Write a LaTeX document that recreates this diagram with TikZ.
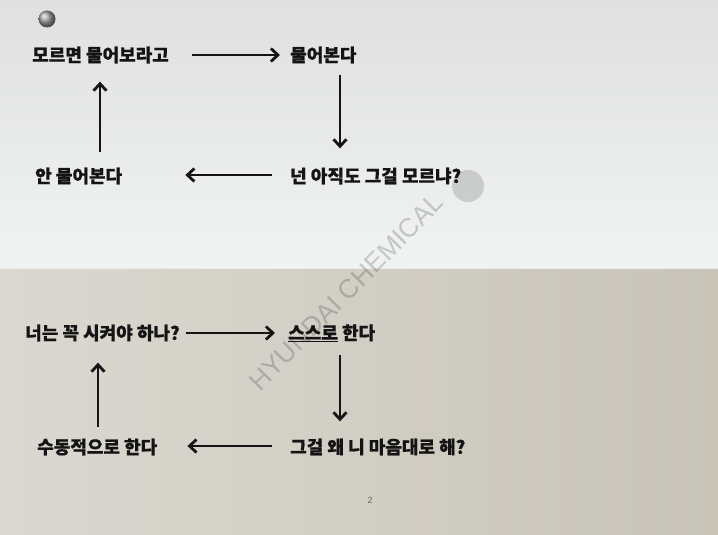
\documentclass[tikz,border=0pt]{standalone}
\usepackage{fontspec}
\newfontfamily\kr{Noto Sans CJK KR}[BoldFeatures={FakeBold=0.7}]
\newfontfamily\wm{Liberation Sans}
\usetikzlibrary{arrows.meta}
\definecolor{papertopT}{HTML}{DFE0DF}
\definecolor{papertopB}{HTML}{F1F3F3}
\definecolor{paperbotL}{HTML}{DBD8D1}
\definecolor{paperbotR}{HTML}{C8C4B8}
\definecolor{ink}{HTML}{141414}
\begin{document}
\begin{tikzpicture}[x=1pt,y=-1pt,
  lbl/.style={font=\kr\bfseries\fontsize{18}{21}\selectfont, inner sep=0pt, text=ink, anchor=west},
  arr/.style={draw=ink, line width=2.8pt, -{Straight Barb[length=7pt,width=13pt,line width=2.8pt]}}]
\useasboundingbox (0,0) rectangle (718,535);
% paper
\shade[top color=papertopT, bottom color=papertopB] (0,0) rectangle (718,268);
\shade[left color=paperbotL, right color=paperbotR] (0,268) rectangle (718,535);
\draw[white!85!gray, line width=1pt] (0,268) -- (718,268);
% pin
\shade[ball color=gray!75] (47,19) circle (8.5);
% grey blot
\fill[gray, opacity=0.3] (468,186) circle (16);
% watermark
\node[font=\wm\fontsize{26.5}{30}\selectfont, text=black, opacity=0.18, rotate=45.5] (wm) at (346,292) {HYUNDAI CHEMICAL};
% top cycle
\node[lbl] (a1) at (32,55) {모르면 물어보라고};
\node[lbl] (a2) at (290,55) {물어본다};
\node[lbl] (a3) at (290,176) {넌 아직도 그걸 모르냐?};
\node[lbl] (a4) at (35,176) {안 물어본다};
\draw[arr, shorten <=23pt, shorten >=10pt] (a1.east) -- (a2.west);
\draw[arr, shorten >=19pt] ([xshift=50pt,yshift=-11pt]a2.south west) coordinate (p1) -- (p1 |- a3.north);
\draw[arr, shorten <=18pt, shorten >=63pt] ([yshift=1pt]a3.west) coordinate (p2) -- (p2 -| a4.east);
\draw[arr, shorten >=18pt] ([xshift=65pt,yshift=15pt]a4.north west) coordinate (p3) -- (p3 |- a1.south);
% bottom cycle
\node[lbl] (b1) at (25,333) {너는 꼭 시켜야 하나?};
\node[lbl] (b2) at (288,333) {\underline{스스로} 한다};
\node[lbl] (b3) at (290,447) {그걸 왜 니 마음대로 해?};
\node[lbl] (b4) at (37,447) {수동적으로 한다};
\draw[arr, shorten <=6pt, shorten >=13pt] (b1.east) -- (b2.west);
\draw[arr, shorten >=17pt] ([xshift=52pt,yshift=-13pt]b2.south west) coordinate (p4) -- (p4 |- b3.north);
\draw[arr, shorten <=18pt, shorten >=30pt] ([yshift=1pt]b3.west) coordinate (p5) -- (p5 -| b4.east);
\draw[arr, shorten >=21pt] ([xshift=61pt,yshift=11pt]b4.north west) coordinate (p6) -- (p6 |- b1.south);
% page number
\node[font=\wm\fontsize{9}{10}\selectfont, text=black!60] (pg) at (370,500) {2};
\end{tikzpicture}
\end{document}
